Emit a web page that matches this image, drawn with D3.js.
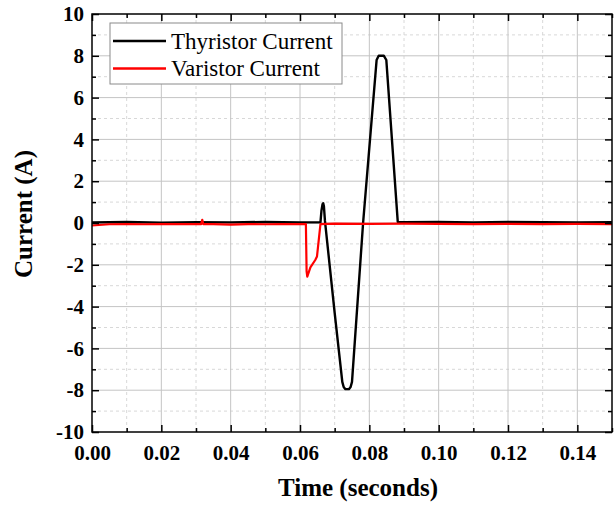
<!DOCTYPE html>
<html>
<head>
<meta charset="utf-8">
<script src="https://cdn.jsdelivr.net/npm/d3@7"></script>
<style>
  body { margin: 0; background: #fff; }
  svg { display: block; }
  text { font-family: "Liberation Serif", "Times New Roman", serif; }
</style>
</head>
<body>
<svg width="616" height="506"></svg>
<script>
// data
const thyTime = [0, 0.010, 0.020, 0.030, 0.040, 0.050, 0.060, 0.0659, 0.0662, 0.0665, 0.0667, 0.0669, 0.0672,
  0.0700, 0.0722, 0.0726, 0.0731, 0.0741, 0.0746, 0.0750, 0.0782, 0.0821, 0.0827, 0.0842, 0.0849, 0.0882,
  0.090, 0.100, 0.110, 0.120, 0.130, 0.140, 0.150]
const thyCurrent = [0.03, 0.05, 0.02, 0.04, 0.03, 0.05, 0.03, 0.03, 0.6, 0.9, 0.95, 0.8, 0.1,
  -4.3, -7.6, -7.85, -7.95, -7.95, -7.85, -7.6, 0.0, 7.8, 8.0, 8.0, 7.8, 0.05,
  0.04, 0.05, 0.03, 0.05, 0.04, 0.03, 0.04]

const varTime = [0, 0.005, 0.010, 0.015, 0.020, 0.025, 0.0315, 0.0318, 0.0321, 0.035, 0.040, 0.045, 0.050,
  0.055, 0.0617, 0.0619, 0.0621, 0.0630, 0.0644, 0.0649, 0.0659, 0.070, 0.080, 0.090, 0.100, 0.110,
  0.120, 0.130, 0.140, 0.150]
const varCurrent = [-0.12, -0.06, -0.05, -0.06, -0.05, -0.05, -0.05, 0.15, -0.05, -0.05, -0.08, -0.05, -0.06,
  -0.05, -0.05, -2.3, -2.57, -2.12, -1.77, -1.6, -0.05, -0.03, -0.04, -0.03, -0.04, -0.05,
  -0.04, -0.05, -0.04, -0.05]

const xMajor = [0, 0.02, 0.04, 0.06, 0.08, 0.10, 0.12, 0.14]
const xMinor = [0.01, 0.03, 0.05, 0.07, 0.09, 0.11, 0.13, 0.15]
const yMajor = [-10, -8, -6, -4, -2, 0, 2, 4, 6, 8, 10]
const yMinor = [-9, -7, -5, -3, -1, 1, 3, 5, 7, 9]
const seriesNames = ['Thyristor Current', 'Varistor Current']
const seriesColors = ['#000000', '#ff0000']

const svg = d3.select('svg')
const margin = { top: 14, right: 4, bottom: 74, left: 92 }
const width = 616, height = 506
const inner_width = width - margin.left - margin.right
const inner_height = height - margin.top - margin.bottom

const x_scale = d3.scaleLinear().domain([0, 0.15]).range([0, inner_width])
const y_scale = d3.scaleLinear().domain([-10, 10]).range([inner_height, 0])

const g = svg.append('g').attr('transform', `translate(${margin.left},${margin.top})`)

// grid
g.append('g').selectAll('line').data(xMinor.slice(0, -1)).enter().append('line')
  .attr('x1', d => x_scale(d)).attr('x2', d => x_scale(d))
  .attr('y1', 0).attr('y2', inner_height)
  .attr('stroke', '#d8d8d8').attr('stroke-dasharray', '3,3')
g.append('g').selectAll('line').data(yMinor).enter().append('line')
  .attr('y1', d => y_scale(d)).attr('y2', d => y_scale(d))
  .attr('x1', 0).attr('x2', inner_width)
  .attr('stroke', '#d8d8d8').attr('stroke-dasharray', '3,3')
g.append('g').selectAll('line').data(xMajor.slice(1)).enter().append('line')
  .attr('x1', d => x_scale(d)).attr('x2', d => x_scale(d))
  .attr('y1', 0).attr('y2', inner_height)
  .attr('stroke', '#c4c4c4')
g.append('g').selectAll('line').data(yMajor.slice(1, -1)).enter().append('line')
  .attr('y1', d => y_scale(d)).attr('y2', d => y_scale(d))
  .attr('x1', 0).attr('x2', inner_width)
  .attr('stroke', '#c4c4c4')

// lines
const line = d3.line().x(d => x_scale(d[0])).y(d => y_scale(d[1]))
g.append('path').datum(d3.zip(thyTime, thyCurrent))
  .attr('d', line).attr('fill', 'none').attr('stroke', seriesColors[0])
  .attr('stroke-width', 2.4).attr('stroke-linejoin', 'round')
g.append('path').datum(d3.zip(varTime, varCurrent))
  .attr('d', line).attr('fill', 'none').attr('stroke', seriesColors[1])
  .attr('stroke-width', 2.2).attr('stroke-linejoin', 'round')

// axes (ticks point inwards)
const styleAxis = sel => {
  sel.select('.domain').remove()
  sel.selectAll('line').attr('stroke', '#000').attr('stroke-width', 1.5)
  sel.selectAll('text').attr('font-size', 21).attr('font-weight', 'bold')
    .attr('font-family', '"Liberation Serif", serif').attr('fill', '#000')
}
g.append('g').attr('transform', `translate(0,${inner_height})`)
  .call(d3.axisBottom(x_scale).tickValues(xMajor).tickSize(-7).tickPadding(13).tickFormat(d3.format('.2f')))
  .call(styleAxis)
g.append('g').attr('transform', `translate(0,${inner_height})`)
  .call(d3.axisBottom(x_scale).tickValues(xMinor).tickSize(-4).tickFormat(''))
  .call(styleAxis)
g.append('g')
  .call(d3.axisTop(x_scale).tickValues(xMajor).tickSize(-7).tickFormat(''))
  .call(styleAxis)
g.append('g')
  .call(d3.axisTop(x_scale).tickValues(xMinor).tickSize(-4).tickFormat(''))
  .call(styleAxis)
g.append('g')
  .call(d3.axisLeft(y_scale).tickValues(yMajor).tickSize(-7).tickPadding(8).tickFormat(d => String(d)))
  .call(styleAxis)
g.append('g')
  .call(d3.axisLeft(y_scale).tickValues(yMinor).tickSize(-4).tickFormat(''))
  .call(styleAxis)
g.append('g').attr('transform', `translate(${inner_width},0)`)
  .call(d3.axisRight(y_scale).tickValues(yMajor).tickSize(-7).tickFormat(''))
  .call(styleAxis)
g.append('g').attr('transform', `translate(${inner_width},0)`)
  .call(d3.axisRight(y_scale).tickValues(yMinor).tickSize(-4).tickFormat(''))
  .call(styleAxis)

g.append('rect').attr('width', inner_width).attr('height', inner_height)
  .attr('fill', 'none').attr('stroke', '#000').attr('stroke-width', 1.5)

// axis titles
svg.append('text').attr('x', margin.left + inner_width / 2 + 6).attr('y', 496)
  .attr('text-anchor', 'middle').attr('font-size', 25).attr('font-weight', 'bold')
  .text('Time (seconds)')
svg.append('text').attr('transform', `translate(32,${margin.top + inner_height / 2 - 9}) rotate(-90)`)
  .attr('text-anchor', 'middle').attr('font-size', 25).attr('font-weight', 'bold')
  .text('Current (A)')

// legend
const legend = svg.append('g').attr('transform', 'translate(110,23)')
legend.append('rect').attr('width', 232).attr('height', 61)
  .attr('fill', '#fff').attr('stroke', '#8a8a8a').attr('stroke-width', 1)
seriesNames.forEach((name, i) => {
  const yy = 18 + i * 27.5
  legend.append('line').attr('x1', 3).attr('x2', 56).attr('y1', yy).attr('y2', yy)
    .attr('stroke', seriesColors[i]).attr('stroke-width', 2.4)
  legend.append('text').attr('x', 61).attr('y', yy + 7.5)
    .attr('font-size', 23).text(name)
})
</script>
</body>
</html>
